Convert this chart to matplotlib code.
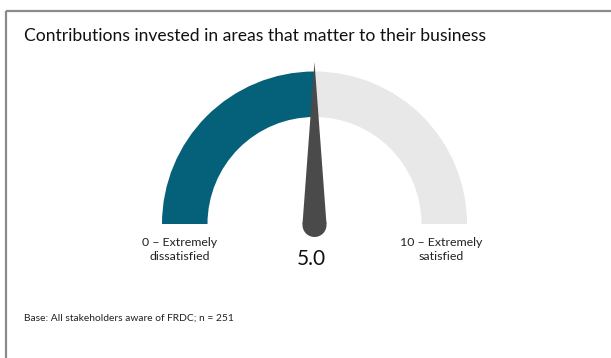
import matplotlib
matplotlib.use("Agg")
import matplotlib.pyplot as plt
from matplotlib.patches import Wedge, Polygon, Circle
import numpy as np

title = "Contributions invested in areas that matter to their business"
footer = "Base: All stakeholders aware of FRDC; n = 251"
scale_min, scale_max = 0, 10
score = 5.0
low_label = "0 – Extremely\ndissatisfied"
high_label = "10 – Extremely\nsatisfied"

W, H = 611, 358
plt.rcParams["font.family"] = ["Lato", "DejaVu Sans"]

fig = plt.figure(figsize=(W / 100, H / 100), dpi=100)
ax = fig.add_axes([0, 0, 1, 1])
ax.set_xlim(0, W)
ax.set_ylim(H, 0)
ax.axis("off")

# frame lines (top and left)
ax.plot([5.5, W], [10.5, 10.5], color="#8a8a8a", lw=1.6, solid_capstyle="butt")
ax.plot([5.5, 5.5], [10.5, H], color="#8a8a8a", lw=1.6, solid_capstyle="butt")

cx, cy = 314.5, 224.0
r_out, r_in = 152.5, 107.0

def val_to_deg(v):
    return 180.0 - 180.0 * (v - scale_min) / (scale_max - scale_min)

a = val_to_deg(score)
# y axis is inverted, so angles are mirrored: use negative angles
ax.add_patch(Wedge((cx, cy), r_out, -180, -a, width=r_out - r_in,
                   facecolor="#05607a", edgecolor="none"))
ax.add_patch(Wedge((cx, cy), r_out, -a, 0, width=r_out - r_in,
                   facecolor="#e8e8e8", edgecolor="none"))

# needle
th = np.deg2rad(a)
tip_len = 162
tip = (cx + tip_len * np.cos(th), cy - tip_len * np.sin(th))
base_r = 12
px, py = -np.sin(th), -np.cos(th)
p1 = (cx + base_r * px, cy + base_r * py)
p2 = (cx - base_r * px, cy - base_r * py)
ax.add_patch(Polygon([tip, p1, p2], closed=True, facecolor="#4a4a4a", edgecolor="none"))
ax.add_patch(Circle((cx, cy + 1), base_r, facecolor="#4a4a4a", edgecolor="none"))

ax.text(24, 36, title, fontsize=12.6, color="#111111", va="center", ha="left")
ax.text(180, 249.5, low_label, fontsize=8.9, ha="center", va="center", linespacing=1.4, color="#222222")
ax.text(441, 249.5, high_label, fontsize=8.9, ha="center", va="center", linespacing=1.4, color="#222222")
ax.text(311, 259, f"{score:.1f}", fontsize=15, ha="center", va="center", color="#111111")
ax.text(24, 318, footer, fontsize=7.4, ha="left", va="center", color="#222222")

fig.savefig("out.png", dpi=100)
